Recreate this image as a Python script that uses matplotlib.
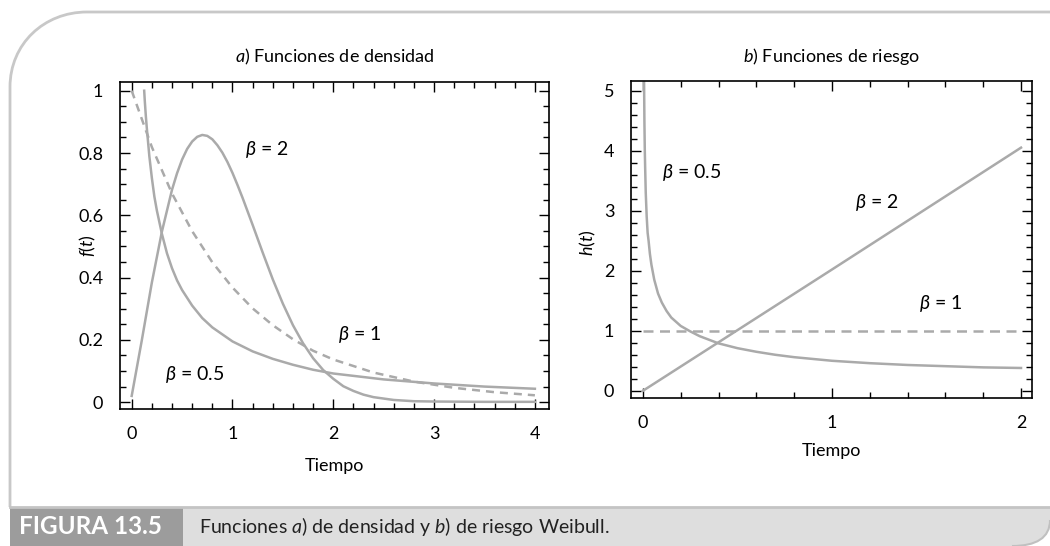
import matplotlib

matplotlib.use("Agg")
import matplotlib.pyplot as plt
from matplotlib.patches import PathPatch, Rectangle
from matplotlib.path import Path

plt.rcParams["font.family"] = ["Lato", "DejaVu Sans"]
plt.rcParams["mathtext.fontset"] = "custom"
plt.rcParams["mathtext.rm"] = "Lato"
plt.rcParams["mathtext.it"] = "Lato:italic"

# ---- data ------------------------------------------------------------------
# a) densidad f(t)
t_b2 = [0.0, 0.1, 0.2, 0.3, 0.4, 0.45, 0.5, 0.55, 0.6, 0.65, 0.7, 0.75, 0.8,
        0.85, 0.9, 0.95, 1.0, 1.05, 1.1, 1.2, 1.3, 1.4, 1.5, 1.6, 1.7, 1.8,
        1.9, 2.0, 2.1, 2.2, 2.3, 2.4, 2.6, 2.8, 3.0, 3.5, 4.0]
f_b2 = [0.02, 0.198, 0.384, 0.548, 0.682, 0.735, 0.779, 0.813, 0.837, 0.852,
        0.858, 0.855, 0.844, 0.825, 0.801, 0.771, 0.736, 0.697, 0.656, 0.569,
        0.480, 0.394, 0.316, 0.247, 0.189, 0.141, 0.103, 0.075, 0.051, 0.036,
        0.024, 0.016, 0.007, 0.003, 0.002, 0.001, 0.001]

t_b05 = [0.124, 0.13, 0.14, 0.15, 0.175, 0.2, 0.225, 0.25, 0.3, 0.35, 0.4,
         0.45, 0.5, 0.6, 0.7, 0.8, 1.0, 1.2, 1.4, 1.6, 1.8, 2.0, 2.5, 3.0,
         3.5, 4.0]
f_b05 = [1.0, 0.967, 0.92, 0.88, 0.79, 0.72, 0.66, 0.615, 0.54, 0.478, 0.43,
         0.391, 0.36, 0.31, 0.27, 0.24, 0.195, 0.163, 0.139, 0.12, 0.104,
         0.092, 0.073, 0.060, 0.050, 0.043]

t_b1 = [0.0, 0.2, 0.4, 0.6, 0.8, 1.0, 1.2, 1.4, 1.6, 1.8, 2.0, 2.4, 2.8, 3.2,
        3.6, 4.0]
f_b1 = [1.0, 0.819, 0.670, 0.549, 0.449, 0.368, 0.301, 0.247, 0.202, 0.165,
        0.137, 0.095, 0.066, 0.046, 0.032, 0.022]

# b) riesgo h(t)
th_b05 = [0.006, 0.008, 0.01, 0.012, 0.015, 0.02, 0.025, 0.03, 0.037, 0.045,
          0.06, 0.08, 0.1, 0.125, 0.15, 0.2, 0.25, 0.3, 0.4, 0.5, 0.6, 0.7,
          0.8, 1.0, 1.2, 1.4, 1.6, 1.8, 2.0]
h_b05 = [5.2, 4.47, 4.0, 3.7, 3.3, 2.9, 2.63, 2.5, 2.28, 2.1, 1.85, 1.62,
         1.47, 1.33, 1.22, 1.08, 0.99, 0.91, 0.79, 0.71, 0.65, 0.60, 0.56,
         0.50, 0.46, 0.43, 0.41, 0.39, 0.38]
th_b2 = [0.0, 1.0, 2.0]
h_b2 = [0.0, 2.02, 4.05]
th_b1 = [0.0, 2.0]
h_b1 = [1.0, 1.0]

xticks_f = [0, 1, 2, 3, 4]
yticks_f = [0, 0.2, 0.4, 0.6, 0.8, 1.0]
yticklabels_f = ["0", "0.2", "0.4", "0.6", "0.8", "1"]
xticks_h = [0, 1, 2]
yticks_h = [0, 1, 2, 3, 4, 5]

LINE = "#aaaaaa"
W, H = 1050, 546


def px(x, y):
    """pixel coords (y down) -> figure fraction"""
    return (x / W, 1 - y / H)


fig = plt.figure(figsize=(10.5, 5.46), dpi=100)

# ---- frame / caption decoration ---------------------------------------------
border = Path(
    [px(10, 507), px(10, 87), px(10, 44), px(44, 12), px(87, 12), px(1050, 12)],
    [Path.MOVETO, Path.LINETO, Path.CURVE4, Path.CURVE4, Path.CURVE4, Path.LINETO],
)
fig.add_artist(PathPatch(border, fill=False, ec="#c8c8c8", lw=2.0,
                         transform=fig.transFigure))

bar = Path(
    [px(10, 507), px(1050, 507), px(1050, 520), px(1050, 538), px(1036, 546),
     px(1012, 546), px(10, 546), px(10, 507)],
    [Path.MOVETO, Path.LINETO, Path.LINETO, Path.CURVE4, Path.CURVE4,
     Path.CURVE4, Path.LINETO, Path.CLOSEPOLY],
)
fig.add_artist(PathPatch(bar, fc="#dedede", ec="none", transform=fig.transFigure))
corner = Path([px(1050, 520), px(1050, 538), px(1036, 546), px(1012, 546)],
              [Path.MOVETO, Path.CURVE4, Path.CURVE4, Path.CURVE4])
fig.add_artist(PathPatch(corner, fill=False, ec="#c0c0c0", lw=1.5,
                         transform=fig.transFigure))
fig.add_artist(plt.Line2D([10 / W, 1.0], [1 - 507 / H] * 2, color="#c4c4c4",
                          lw=2.0, transform=fig.transFigure))
x0, y0 = px(10, 546)
fig.add_artist(Rectangle((x0, y0), 173 / W, 38 / H, fc="#9c9c9c", ec="none",
                         transform=fig.transFigure))
fig.text(*px(19, 527), "FIGURA 13.5", color="white", fontsize=17.5,
         fontweight="bold", va="center", ha="left")
fig.text(*px(199, 527), "Funciones $a$) de densidad y $b$) de riesgo Weibull.",
         color="#222222", fontsize=14, va="center", ha="left")


def style(ax, xminor, yminor):
    ax.tick_params(which="both", direction="in", top=True, right=True,
                   labelsize=13, pad=12, width=1.0)
    ax.tick_params(which="major", length=7)
    ax.tick_params(which="minor", length=4)
    ax.set_xticks(xminor, minor=True)
    ax.set_yticks(yminor, minor=True)
    for s in ax.spines.values():
        s.set_linewidth(1.2)


# ---- a) densidad -----------------------------------------------------------
ax1 = fig.add_axes([120 / W, 1 - 409 / H, 429 / W, 327 / H])
ax1.plot(t_b2, f_b2, color=LINE, lw=1.8)
ax1.plot(t_b05, f_b05, color=LINE, lw=1.8)
ax1.plot(t_b1, f_b1, color=LINE, lw=1.8, dashes=(3.2, 2.4))
ax1.set_xlim(-0.116, 4.14)
ax1.set_ylim(-0.022, 1.028)
ax1.set_xticks(xticks_f)
ax1.set_xticklabels([str(v) for v in xticks_f])
ax1.set_yticks(yticks_f)
ax1.set_yticklabels(yticklabels_f)
style(ax1, [i * 0.2 for i in range(21)], [i * 0.05 for i in range(21)])
ax1.set_xlabel("Tiempo", fontsize=13, labelpad=12)
ax1.set_ylabel("$f(t)$", fontsize=13)
ax1.yaxis.set_label_coords(-0.052, 0.5)
ax1.set_title("$a$) Funciones de densidad", fontsize=13, pad=14)
ax1.text(1.12, 0.81, r"$\beta$ = 2", fontsize=14, va="center")
ax1.text(2.05, 0.216, r"$\beta$ = 1", fontsize=14, va="center")
ax1.text(0.33, 0.088, r"$\beta$ = 0.5", fontsize=14, va="center")

# ---- b) riesgo -------------------------------------------------------------
ax2 = fig.add_axes([631 / W, 1 - 398 / H, 401 / W, 317 / H])
ax2.plot(th_b05, h_b05, color=LINE, lw=1.8)
ax2.plot(th_b2, h_b2, color=LINE, lw=1.8)
ax2.plot(th_b1, h_b1, color=LINE, lw=1.8, dashes=(4.0, 2.6))
ax2.set_xlim(-0.063, 2.058)
ax2.set_ylim(-0.12, 5.16)
ax2.set_xticks(xticks_h)
ax2.set_xticklabels([str(v) for v in xticks_h])
ax2.set_yticks(yticks_h)
ax2.set_yticklabels([str(v) for v in yticks_h])
style(ax2, [i * 0.2 for i in range(11)], [i * 0.2 for i in range(26)])
ax2.set_xlabel("Tiempo", fontsize=13, labelpad=9)
ax2.set_ylabel("$h(t)$", fontsize=13)
ax2.yaxis.set_label_coords(-0.082, 0.49)
ax2.set_title("$b$) Funciones de riesgo", fontsize=13, pad=14)
ax2.text(0.10, 3.64, r"$\beta$ = 0.5", fontsize=14, va="center")
ax2.text(1.12, 3.13, r"$\beta$ = 2", fontsize=14, va="center")
ax2.text(1.46, 1.46, r"$\beta$ = 1", fontsize=14, va="center")

fig.savefig("out.png", dpi=100)
